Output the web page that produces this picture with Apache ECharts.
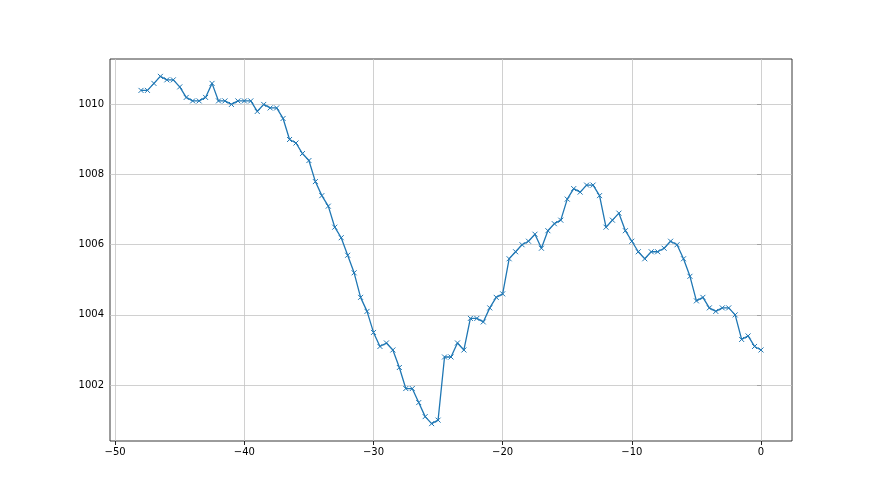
<!DOCTYPE html>
<html>
<head>
<meta charset="utf-8">
<script src="https://cdn.jsdelivr.net/npm/echarts@6/dist/echarts.min.js"></script>
<style>
  html, body { margin: 0; padding: 0; background: #fff; }
  #chart { width: 880px; height: 495px; }
</style>
</head>
<body>
<div id="chart"></div>
<script>
  // hours before now, every half hour
  const hours = [];
  for (let i = 0; i <= 96; i++) hours.push(-48 + i * 0.5);

  // pressure readings (hPa)
  const pressure = [
    1010.4, 1010.4, 1010.6, 1010.8, 1010.7, 1010.7, 1010.5, 1010.2, 1010.1, 1010.1,
    1010.2, 1010.6, 1010.1, 1010.1, 1010.0, 1010.1, 1010.1, 1010.1, 1009.8, 1010.0,
    1009.9, 1009.9, 1009.6, 1009.0, 1008.9, 1008.6, 1008.4, 1007.8, 1007.4, 1007.1,
    1006.5, 1006.2, 1005.7, 1005.2, 1004.5, 1004.1, 1003.5, 1003.1, 1003.2, 1003.0,
    1002.5, 1001.9, 1001.9, 1001.5, 1001.1, 1000.9, 1001.0, 1002.8, 1002.8, 1003.2,
    1003.0, 1003.9, 1003.9, 1003.8, 1004.2, 1004.5, 1004.6, 1005.6, 1005.8, 1006.0,
    1006.1, 1006.3, 1005.9, 1006.4, 1006.6, 1006.7, 1007.3, 1007.6, 1007.5, 1007.7,
    1007.7, 1007.4, 1006.5, 1006.7, 1006.9, 1006.4, 1006.1, 1005.8, 1005.6, 1005.8,
    1005.8, 1005.9, 1006.1, 1006.0, 1005.6, 1005.1, 1004.4, 1004.5, 1004.2, 1004.1,
    1004.2, 1004.2, 1004.0, 1003.3, 1003.4, 1003.1, 1003.0
  ];

  const xTicks = [-50, -40, -30, -20, -10, 0];
  const yTicks = [1002, 1004, 1006, 1008, 1010];

  const chart = echarts.init(document.getElementById('chart'));
  const fmt = v => String(v).replace('-', '\u2212');
  const gridLine = { color: '#c4c4c4', width: 0.8, type: 'solid' };

  chart.setOption({
    animation: false,
    grid: {
      left: 110, top: 59, width: 682, height: 382,
      show: true, borderColor: '#222', borderWidth: 0.9
    },
    xAxis: {
      type: 'value',
      min: -50.4, max: 2.4,
      axisLine: { show: false },
      splitLine: { show: false },
      axisTick: { show: true, length: 4, customValues: xTicks, lineStyle: { color: '#222' } },
      axisLabel: {
        customValues: xTicks, formatter: fmt, color: '#000',
        fontSize: 10, fontFamily: 'DejaVu Sans', margin: 6
      }
    },
    yAxis: {
      type: 'value',
      min: 1000.405, max: 1011.295,
      axisLine: { show: false },
      splitLine: { show: false },
      axisTick: { show: true, length: 4, customValues: yTicks, lineStyle: { color: '#222' } },
      axisLabel: {
        customValues: yTicks, formatter: fmt, color: '#000',
        fontSize: 10, fontFamily: 'DejaVu Sans', margin: 6
      }
    },
    series: [{
      type: 'line',
      data: hours.map((h, i) => [h, pressure[i]]),
      symbol: 'path://M0,0L10,10M10,0L0,10',
      symbolSize: 5,
      showAllSymbol: true,
      lineStyle: { color: '#1f77b4', width: 1.3 },
      itemStyle: { color: '#1f77b4', borderColor: '#1f77b4', borderWidth: 1 },
      z: 3,
      markLine: {
        silent: true,
        symbol: 'none',
        label: { show: false },
        lineStyle: gridLine,
        z: 1,
        data: xTicks.map(v => ({ xAxis: v })).concat(yTicks.map(v => ({ yAxis: v })))
      }
    }]
  });
</script>
</body>
</html>
